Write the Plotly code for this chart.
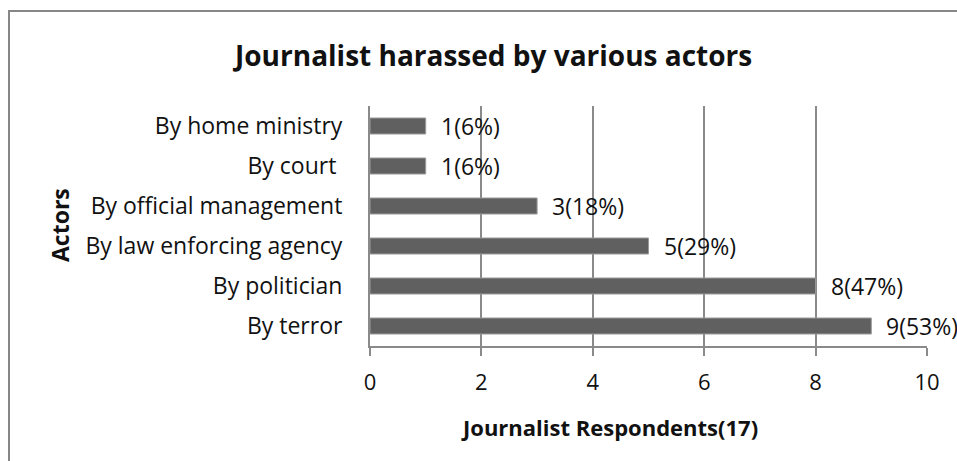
import plotly.graph_objects as go

# Survey data: journalists harassed, by actor (total respondents: 17)
actors = ["By terror", "By politician", "By law enforcing agency",
          "By official management", "By court ", "By home ministry"]
counts = [9, 8, 5, 3, 1, 1]
percents = [53, 47, 29, 18, 6, 6]
x_ticks = [0, 2, 4, 6, 8, 10]

FONT = "Open Sans"
GRID = "#8a8a8a"
BAR = "#606060"
INK = "#111111"

W, H = 957, 461
L, R, T, B = 370, 30, 106, 115
pw, ph = W - L - R, H - T - B

fig = go.Figure()
fig.add_trace(go.Bar(
    y=actors, x=counts, orientation="h", width=0.4,
    marker=dict(color=BAR, line=dict(color="#9a9a9a", width=1)),
    hoverinfo="x+y",
))

# value labels placed just right of each bar
for a, c, p in zip(actors, counts, percents):
    fig.add_annotation(
        x=c, y=a, text=f"{c}({p}%)", showarrow=False,
        xanchor="left", yanchor="middle", xshift=13,
        font=dict(family=FONT, size=23, color=INK),
    )

def px_to_paper(px, py):
    return (px - L) / pw, (H - B - py) / ph

# outer chart frame (right and bottom edges fall outside the page)
x0, y1 = px_to_paper(9, 11)
x1, y0 = px_to_paper(W + 5, H + 5)
fig.add_shape(type="rect", xref="paper", yref="paper",
              x0=x0, x1=x1, y0=y0, y1=y1,
              line=dict(color="#878787", width=2), layer="below")

# chart title
tx, ty = px_to_paper(492, 55)
fig.add_annotation(xref="paper", yref="paper", x=tx, y=ty,
                   text="<b>Journalist harassed by various actors</b>",
                   showarrow=False, xanchor="center", yanchor="middle",
                   font=dict(family=FONT, size=28, color=INK))

# axis titles
ax, ay = px_to_paper(609, 427)
fig.add_annotation(xref="paper", yref="paper", x=ax, y=ay,
                   text="<b>Journalist Respondents(17)</b>",
                   showarrow=False, xanchor="center", yanchor="middle",
                   font=dict(family=FONT, size=22, color=INK))
bx, by = px_to_paper(60, 225)
fig.add_annotation(xref="paper", yref="paper", x=bx, y=by,
                   text="<b>Actors</b>", textangle=-90,
                   showarrow=False, xanchor="center", yanchor="middle",
                   font=dict(family=FONT, size=23, color=INK))

fig.update_layout(
    width=W, height=H,
    margin=dict(l=L, r=R, t=T, b=B),
    paper_bgcolor="white", plot_bgcolor="white",
    showlegend=False,
    xaxis=dict(
        range=[0, 10], tickvals=x_ticks, ticktext=[str(v) for v in x_ticks],
        showgrid=True, gridcolor=GRID, gridwidth=1.5,
        showline=True, linecolor=GRID, linewidth=2,
        ticks="outside", ticklen=8, tickcolor=GRID, tickwidth=2,
        zeroline=False, ticklabelstandoff=8,
        tickfont=dict(family=FONT, size=22, color=INK),
        fixedrange=True,
    ),
    yaxis=dict(
        categoryorder="array", categoryarray=actors,
        showgrid=False, showline=True, linecolor=GRID, linewidth=2,
        ticks="", ticklabelstandoff=21,
        tickfont=dict(family=FONT, size=23, color=INK),
        fixedrange=True,
    ),
)

fig.write_html("out.html")
